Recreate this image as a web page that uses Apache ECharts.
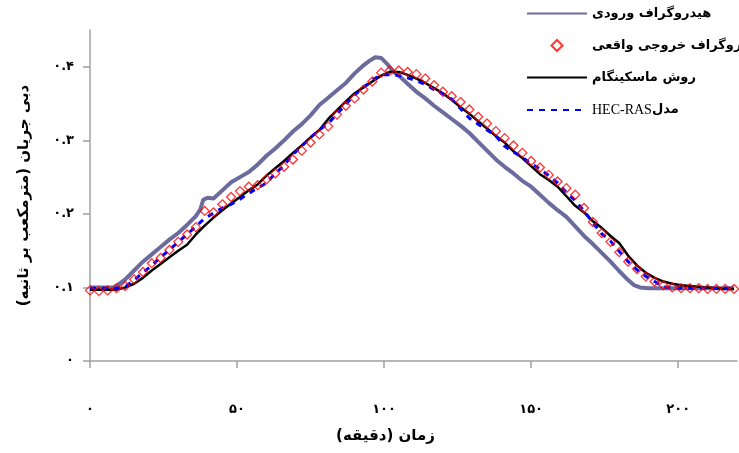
<!DOCTYPE html>
<html>
<head>
<meta charset="utf-8">
<script src="https://cdn.jsdelivr.net/npm/echarts@6/dist/echarts.min.js"></script>
<style>
html,body{margin:0;padding:0;background:#fff;}
#chart{width:739px;height:453px;}
</style>
</head>
<body>
<div id="chart"></div>
<script>
// ---- data (time in minutes, discharge in m3/s) ----
const obsTime = [0,3,6,9,12,15,18,21,24,27,30,33,36,39,42,45,48,51,54,57,60,63,66,69,72,75,78,81,84,87,90,93,96,99,102,105,108,111,114,117,120,123,126,129,132,135,138,141,144,147,150,153,156,159,162,165,168,171,174,177,180,183,186,189,192,195,198,201,204,207,210,213,216,219];

const observedOutflow = [0.096,0.095,0.096,0.099,0.102,0.111,0.121,0.133,0.140,0.151,
0.162,0.172,0.182,0.204,0.202,0.213,0.223,0.231,0.237,0.239,
0.247,0.255,0.264,0.274,0.286,0.297,0.308,0.319,0.335,0.347,
0.357,0.369,0.380,0.392,0.395,0.395,0.393,0.390,0.384,0.375,
0.366,0.360,0.352,0.342,0.332,0.323,0.3125,0.303,0.293,0.283,
0.272,0.263,0.253,0.244,0.235,0.226,0.208,0.189,0.174,0.162,
0.148,0.135,0.125,0.115,0.108,0.103,0.100,0.099,0.099,0.099,
0.098,0.098,0.098,0.098];

const muskingum = [0.097,0.097,0.097,0.097,0.100,0.105,0.113,0.123,0.132,0.141,
0.150,0.158,0.172,0.184,0.195,0.205,0.214,0.223,0.232,0.240,
0.252,0.262,0.272,0.283,0.293,0.304,0.314,0.329,0.341,0.353,
0.364,0.372,0.380,0.388,0.393,0.393,0.389,0.384,0.378,0.371,
0.364,0.355,0.345,0.336,0.326,0.316,0.306,0.297,0.285,0.276,
0.265,0.254,0.246,0.237,0.224,0.211,0.202,0.190,0.181,0.170,
0.160,0.143,0.130,0.120,0.113,0.108,0.105,0.103,0.102,0.101,
0.100,0.099,0.098,0.098];

const hecras = [0.099,0.099,0.099,0.099,0.101,0.110,0.120,0.130,0.141,0.151,
0.162,0.172,0.183,0.194,0.201,0.208,0.213,0.220,0.228,0.235,
0.242,0.255,0.266,0.281,0.292,0.304,0.314,0.323,0.336,0.349,
0.362,0.372,0.382,0.389,0.389,0.388,0.385,0.381,0.376,0.369,
0.363,0.356,0.343,0.330,0.322,0.314,0.306,0.292,0.284,0.277,
0.268,0.261,0.252,0.242,0.229,0.218,0.204,0.188,0.173,0.163,
0.149,0.135,0.124,0.115,0.108,0.101,0.099,0.099,0.099,0.099,
0.099,0.099,0.099,0.099];

const inflowTime = [0,3,6,8,9,12,15,18,21,24,27,30,33,36,37.5,38.5,40,42,45,48,51,54,57,60,63,66,69,72,75,78,81,84,87,90,93,95,97,99,101,103,105,108,111,114,117,120,123,126,129,132,135,138,141,144,147,150,153,156,159,162,165,168,171,174,177,180,183,185,187,190,200,210,219];
const inflow = [0.100,0.100,0.100,0.100,0.102,0.111,0.123,0.135,0.145,0.155,
0.165,0.174,0.185,0.197,0.206,0.219,0.222,0.221,0.232,0.243,
0.250,0.257,0.267,0.279,0.289,0.300,0.312,0.322,0.334,0.348,
0.358,0.368,0.378,0.391,0.402,0.408,0.413,0.412,0.404,0.394,
0.388,0.377,0.366,0.357,0.347,0.338,0.329,0.320,0.310,0.298,
0.286,0.274,0.264,0.255,0.245,0.237,0.226,0.215,0.205,0.196,
0.183,0.170,0.159,0.147,0.135,0.122,0.110,0.103,0.100,0.099,
0.099,0.099,0.099];

const seriesNames = ['هیدروگراف ورودی', 'هیدروگراف خروجی واقعی', 'روش ماسکینگام', 'مدل HEC-RAS'];
const xTicks = [0, 50, 100, 150, 200];
const yTicks = [0, 0.1, 0.2, 0.3, 0.4];
const xTitle = 'زمان (دقیقه)';
const yTitle = 'دبی جریان (مترمکعب بر ثانیه)';

const RLM = '\u200F';
const faDigits = '۰۱۲۳۴۵۶۷۸۹';
function toFa(v){ return String(v).replace(/[0-9]/g, d => faDigits[+d]); }
function pairs(xs, ys){ return xs.map((x,i)=>[x, ys[i]]); }
function rtl(s){ return RLM + s + RLM; }

const FA = "'DejaVu Sans', sans-serif";
const chart = echarts.init(document.getElementById('chart'), null, {renderer:'canvas'});
chart.setOption({
  animation:false,
  backgroundColor:'#ffffff',
  grid:{left:90, right:2, top:30, bottom:92, containLabel:false},
  legend:{
    orient:'vertical', left:521, top:2, itemWidth:60, itemHeight:11, itemGap:19,
    symbolKeepAspect:true,
    formatter:function(name){
      if(name === seriesNames[3]) return '{en|HEC-RAS}{fa|مدل}';
      return rtl(name);
    },
    textStyle:{fontFamily:FA, fontWeight:'bold', fontSize:13, color:'#000',
      rich:{en:{fontFamily:"'Liberation Serif', serif", fontWeight:'normal', fontSize:14, color:'#000'},
            fa:{fontFamily:FA, fontWeight:'bold', fontSize:13, color:'#000'}}},
    data:[
      {name:seriesNames[0], itemStyle:{opacity:0}},
      {name:seriesNames[1], icon:'path://M5,0L10,5L5,10L0,5Z'},
      {name:seriesNames[2], itemStyle:{opacity:0}},
      {name:seriesNames[3], itemStyle:{opacity:0}}
    ]
  },
  xAxis:{
    type:'value', min:0, max:220,
    axisLine:{lineStyle:{color:'#a0a0a0', width:1.5}},
    axisTick:{show:true, length:7, customValues:xTicks, lineStyle:{color:'#a0a0a0', width:1.5}},
    axisLabel:{customValues:xTicks, margin:42, formatter:v=>toFa(v), fontFamily:FA, fontWeight:'bold', fontSize:13, color:'#000'},
    splitLine:{show:false},
    name:rtl(xTitle), nameLocation:'middle', nameGap:68,
    nameTextStyle:{fontFamily:FA, fontWeight:'bold', fontSize:15, color:'#000', padding:[0,56,0,0]}
  },
  yAxis:{
    type:'value', min:0, max:0.45,
    axisLine:{show:true, lineStyle:{color:'#a0a0a0', width:1.5}},
    axisTick:{show:true, length:7, customValues:yTicks, lineStyle:{color:'#a0a0a0', width:1.5}},
    axisLabel:{customValues:yTicks, margin:16, formatter:v=>toFa(v), fontFamily:FA, fontWeight:'bold', fontSize:13, color:'#000'},
    splitLine:{show:false},
    name:rtl(yTitle), nameLocation:'middle', nameGap:58, nameRotate:90,
    nameTextStyle:{fontFamily:FA, fontWeight:'bold', fontSize:15, color:'#000'}
  },
  series:[
    {name:seriesNames[0], type:'line', data:pairs(inflowTime, inflow), symbol:'none', smooth:false,
     lineStyle:{color:'#6b6b9e', width:4}, itemStyle:{color:'#6b6b9e'}, z:1},
    {name:seriesNames[1], type:'scatter', data:pairs(obsTime, observedOutflow), symbol:'diamond', symbolSize:9,
     itemStyle:{color:'rgba(255,255,255,0)', borderColor:'#ff0000', borderWidth:1.3}, z:4},
    {name:seriesNames[2], type:'line', data:pairs(obsTime, muskingum), symbol:'none',
     lineStyle:{color:'#000000', width:2.5}, itemStyle:{color:'#000'}, z:2},
    {name:seriesNames[3], type:'line', data:pairs(obsTime, hecras), symbol:'none',
     lineStyle:{color:'#0000ff', width:3, type:[6,6]}, itemStyle:{color:'#0000ff'}, z:3}
  ]
});
</script>
</body>
</html>
